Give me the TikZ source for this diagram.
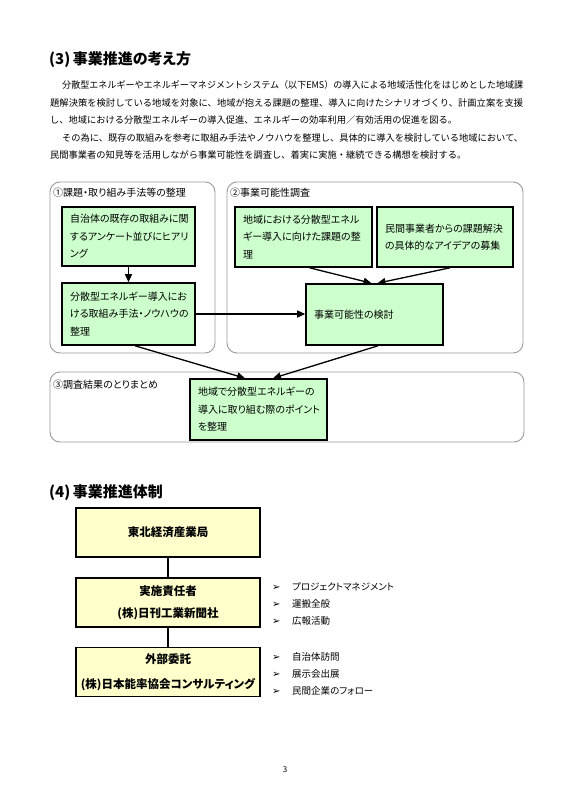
\documentclass[tikz,border=0pt]{standalone}
\usepackage{fontspec}
\usepackage{graphicx}
\usetikzlibrary{arrows.meta,calc}
\setmainfont{Noto Sans CJK JP}[RawFeature={+palt}]
\newfontfamily\monojp{Noto Sans CJK JP}
\newfontfamily\sym{DejaVu Sans}
\definecolor{boxgreen}{HTML}{CCFFCC}
\definecolor{boxyellow}{HTML}{FFFFCC}
\definecolor{framegray}{HTML}{9A9A9A}
\newcommand\bulmark{\makebox[20pt][l]{\sym\fontsize{10}{11}\selectfont ➢}}
\newcommand\justline[2]{\resizebox{#1}{\height}{#2}}
\begin{document}
\begin{tikzpicture}[x=1pt,y=-1pt,
  txt/.style={anchor=west, inner sep=0pt, font=\monojp\fontsize{9.25}{12}\selectfont},
  head/.style={anchor=west, inner sep=0pt, font=\fontsize{15}{18}\selectfont\bfseries},
  grouplabel/.style={anchor=west, inner sep=0pt, font=\fontsize{10}{12}\selectfont},
  group/.style={draw=framegray, line width=0.9pt, rounded corners=10pt},
  gbox/.style={draw=black, line width=1.6pt, fill=boxgreen, rectangle, inner xsep=8pt, inner ysep=0pt, align=left, font=\fontsize{10}{17.5}\selectfont},
  ybox/.style={draw=black, line width=1.1pt, fill=boxyellow, rectangle, minimum width=184pt, minimum height=49pt, align=center, font=\fontsize{11.5}{22}\selectfont\bfseries},
  arr/.style={line width=1.3pt, -{Triangle[length=8pt,width=7pt]}},
  link/.style={line width=1.1pt},
  bul/.style={anchor=west, inner sep=0pt, font=\fontsize{9.5}{12}\selectfont}
]
\fill[white] (0,0) rectangle (565,800);
\useasboundingbox (0,0) rectangle (565,800);

% ---- (3) heading and paragraph
\node[head] (h3) at (49,60) {(3)\,事業推進の考え方};
\node[txt] (l1) at (62,85) {\justline{461pt}{分散型エネルギーやエネルギーマネジメントシステム（以下EMS）の導入による地域活性化をはじめとした地域課}};
\node[txt] (l2) at (50,102.5) {\justline{473pt}{題解決策を検討している地域を対象に、地域が抱える課題の整理、導入に向けたシナリオづくり、計画立案を支援}};
\node[txt] (l3) at (50,120) {し、地域における分散型エネルギーの導入促進、エネルギーの効率利用／有効活用の促進を図る。};
\node[txt] (l4) at (62,137.5) {\justline{461pt}{その為に、既存の取組みを参考に取組み手法やノウハウを整理し、具体的に導入を検討している地域において、}};
\node[txt] (l5) at (50,155) {民間事業者の知見等を活用しながら事業可能性を調査し、着実に実施・継続できる構想を検討する。};

% ---- group frames
\draw[group] (50,182) rectangle (215,353);
\draw[group] (227,182) rectangle (523,353);
\draw[group] (50,372) rectangle (524,442);
\node[grouplabel] (g1) at (53,193) {①課題・取り組み手法等の整理};
\node[grouplabel] (g2) at (230,193) {②事業可能性調査};
\node[grouplabel] (g3) at (53,385) {③調査結果のとりまとめ};

% ---- green boxes
\node[gbox, text width=117pt, minimum height=59pt] (A) at (128.5,236.5)
  {\mbox{自治体の既存の取組みに関}\\\mbox{するアンケート並びにヒアリ}\\\mbox{ング}};
\node[gbox, text width=117pt, minimum height=62pt] (B) at (128.5,314)
  {\mbox{分散型エネルギー導入にお}\\\mbox{ける取組み手法・ノウハウの}\\\mbox{整理}};
\node[gbox, text width=121pt, minimum height=60pt] (C) at (303.5,237)
  {\mbox{地域における分散型エネル}\\\mbox{ギー導入に向けた課題の整}\\\mbox{理}};
\node[gbox, text width=120pt, minimum height=60pt] (D) at (445,237)
  {\mbox{民間事業者からの課題解決}\\\mbox{の具体的なアイデアの募集}};
\node[gbox, text width=121pt, minimum height=61pt] (E) at (374.5,314.5)
  {\mbox{事業可能性の検討}};
\node[gbox, text width=121pt, minimum height=61pt] (F) at (258.5,409.5)
  {\mbox{地域で分散型エネルギーの}\\\mbox{導入に取り組む際のポイント}\\\mbox{を整理}};

% ---- arrows
\draw[arr] (A.south) -- (B.north);
\draw[arr] (B.east) -- (B.east -| E.west);
\draw[arr] ($(C.south)+(6,0)$) -- ($(E.north)+(-3,0)$);
\draw[arr] ($(D.south)+(5,0)$) -- ($(E.north)+(3,0)$);
\draw[arr] ($(B.south)+(6.5,0)$) -- ($(F.north)+(-13.5,0)$);
\draw[arr] ($(E.south)+(3.5,0)$) -- ($(F.north)+(14.5,0)$);

% ---- (4) heading and organisation
\node[head] (h4) at (49,493) {(4)\,事業推進体制};
\node[ybox] (Y1) at (168,532.5) {東北経済産業局};
\node[ybox] (Y2) at (168,602.5) {実施責任者\\(株)日刊工業新聞社};
\node[ybox, font=\fontsize{11.5}{25}\selectfont\bfseries] (Y3) at (168,672) {外部委託\\(株)日本能率協会コンサルティング};
\draw[link] (Y1.south) -- (Y2.north);
\draw[link] (Y2.south) -- (Y3.north);

\node[bul] (p1) at (272,587) {\bulmark プロジェクトマネジメント};
\node[bul] (p2) at (272,604) {\bulmark 運搬全般};
\node[bul] (p3) at (272,621) {\bulmark 広報活動};
\node[bul] (q1) at (272,657) {\bulmark 自治体訪問};
\node[bul] (q2) at (272,674) {\bulmark 展示会出展};
\node[bul] (q3) at (272,691) {\bulmark 民間企業のフォロー};

\node[inner sep=0pt, font=\fontsize{8}{9}\selectfont] (pg) at (285,770) {3};
\end{tikzpicture}
\end{document}
